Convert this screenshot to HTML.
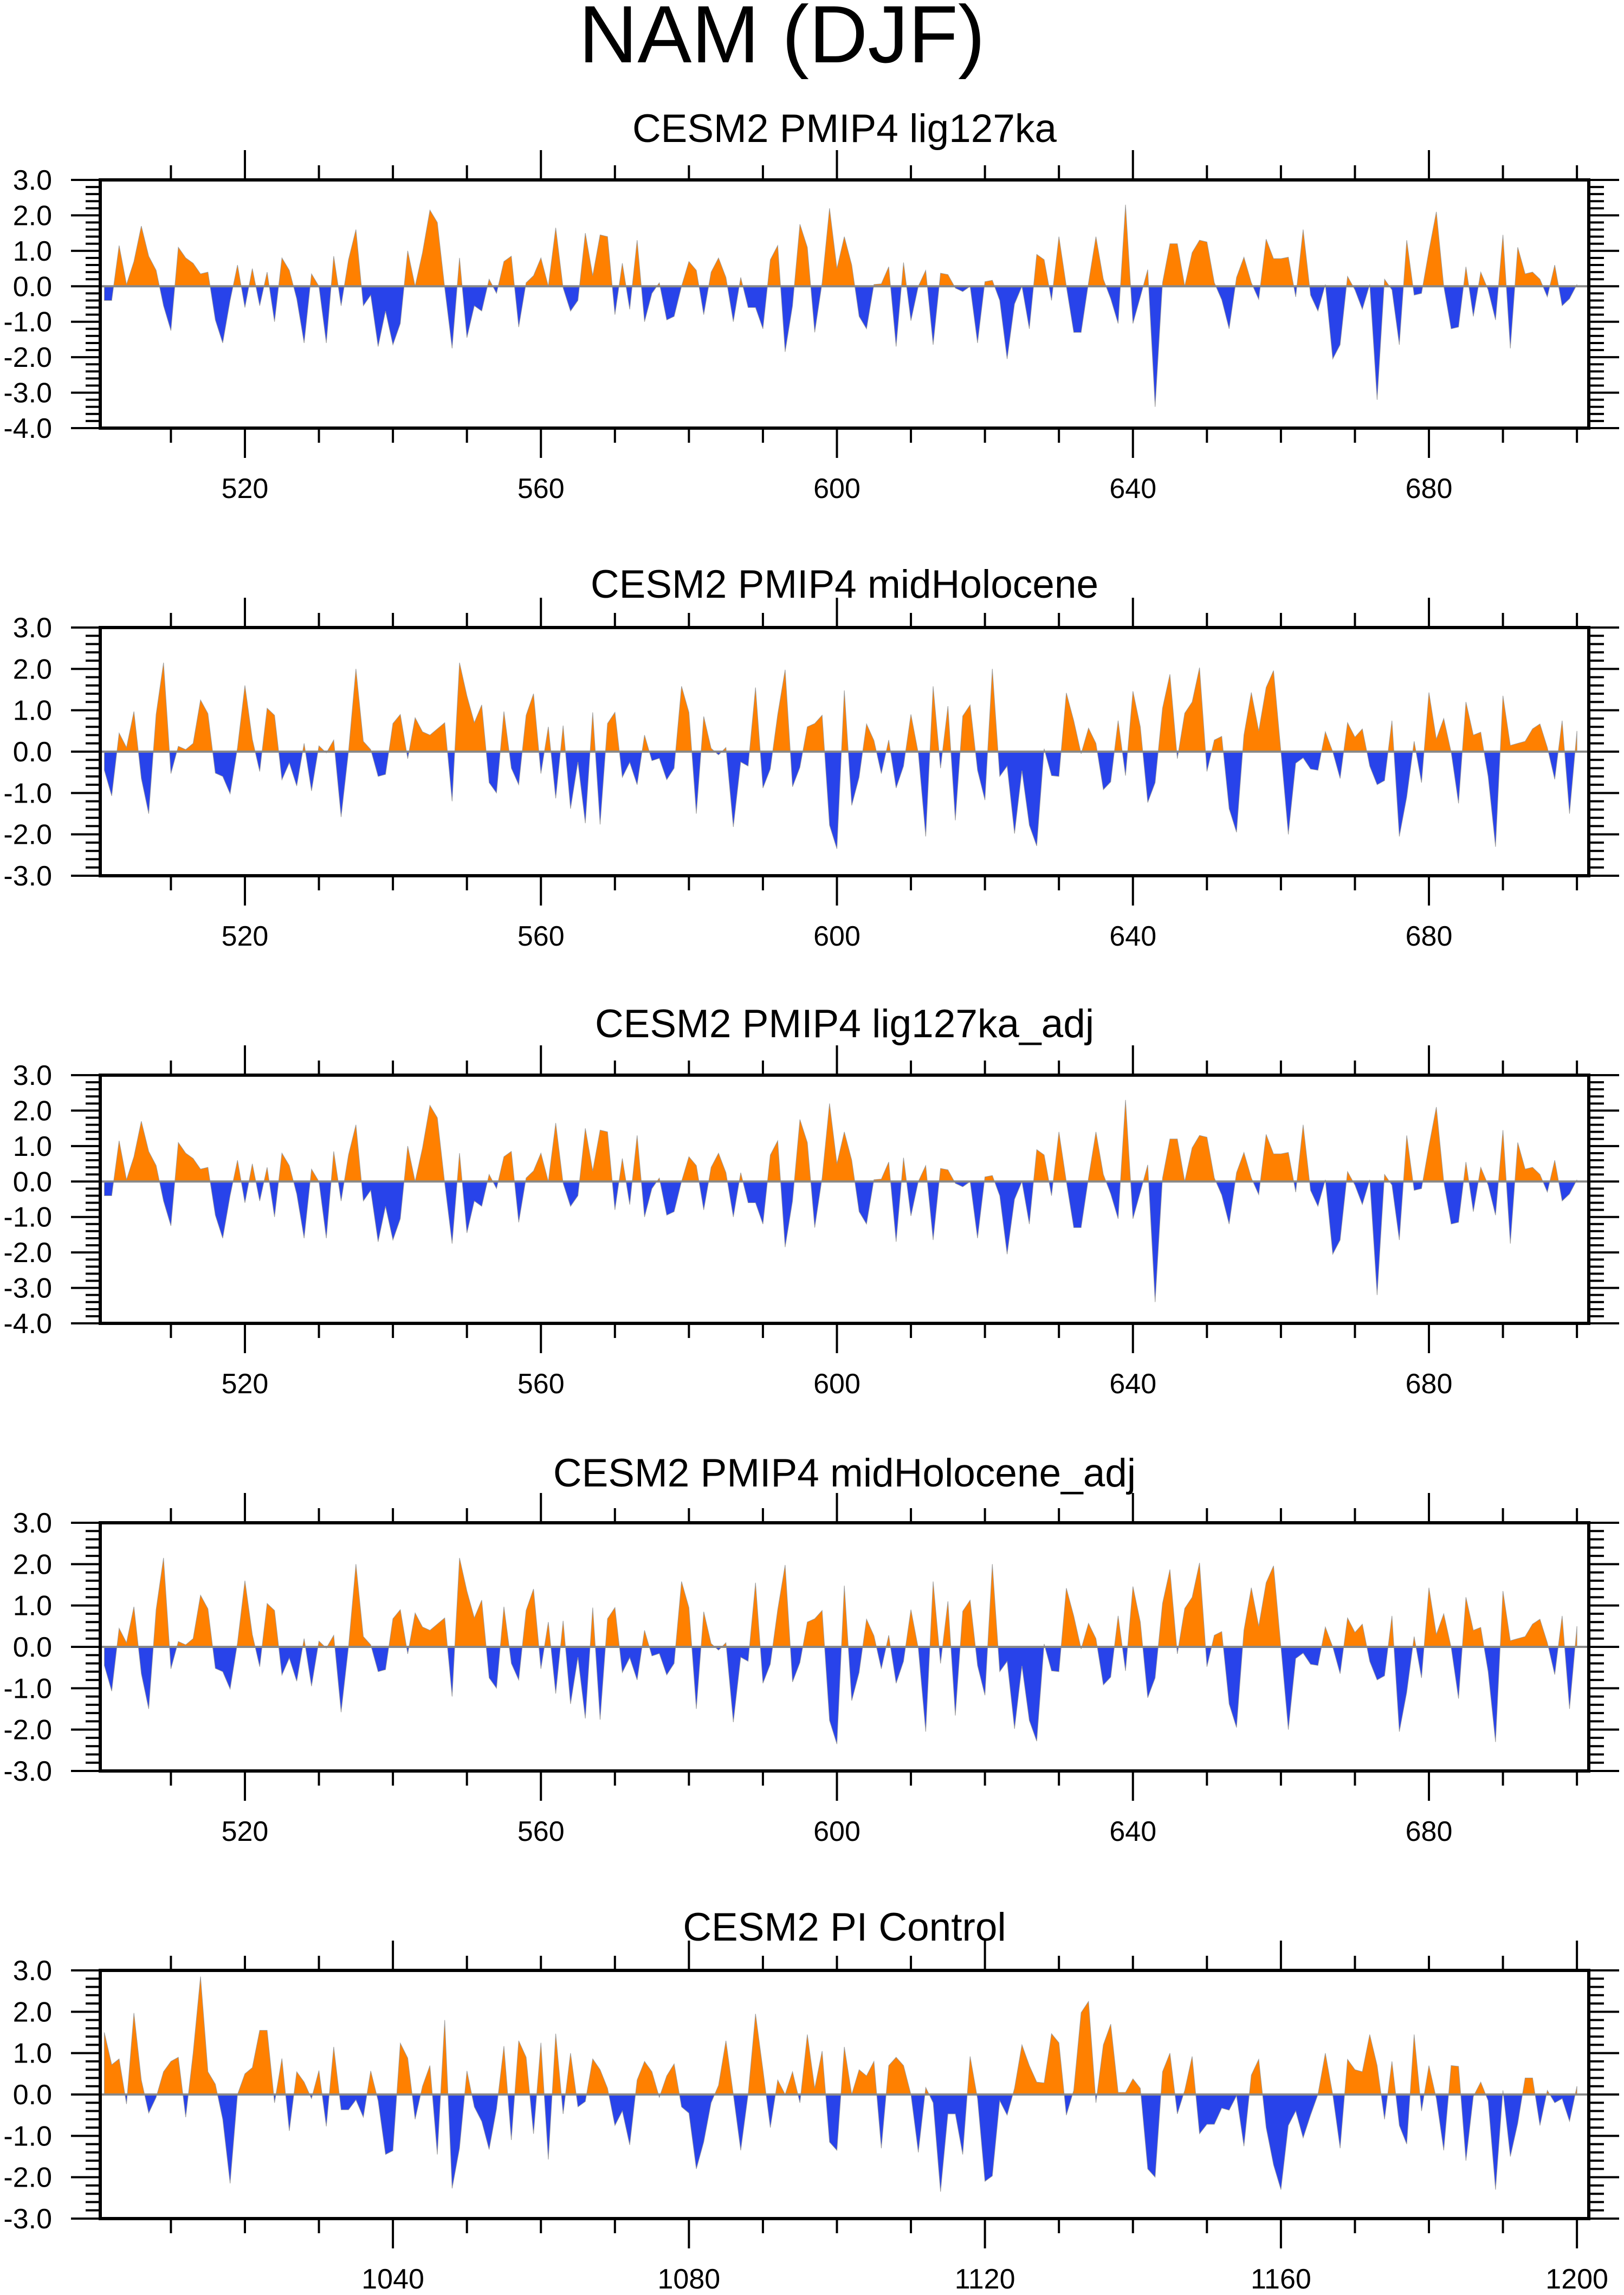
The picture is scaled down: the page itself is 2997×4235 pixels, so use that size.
<!DOCTYPE html>
<html>
<head>
<meta charset="utf-8">
<style>
html,body{margin:0;padding:0;background:#fff;}
svg{display:block;}
text{font-family:"Liberation Sans",Arial,sans-serif;fill:#000;}
</style>
</head>
<body>
<svg id="chart" width="2997" height="4235" viewBox="0 0 2997 4235" xmlns="http://www.w3.org/2000/svg">
<text x="1443" y="115" font-size="150" text-anchor="middle">NAM (DJF)</text>
</svg>
<script>
// ---------- data ----------
const lig127kaStart = 501;
const lig127kaValues = [-0.4,-0.4,1.15,0.05,0.7,1.7,0.85,0.45,-0.55,-1.25,1.1,0.8,0.65,0.35,0.4,-0.95,-1.6,-0.4,0.6,-0.6,0.5,-0.55,0.4,-1.0,0.8,0.45,-0.35,-1.6,0.35,0.0,-1.6,0.85,-0.55,0.75,1.6,-0.55,-0.25,-1.7,-0.7,-1.65,-1.05,1.0,0.0,0.95,2.15,1.8,-0.05,-1.75,0.8,-1.45,-0.55,-0.7,0.2,-0.2,0.7,0.85,-1.15,0.1,0.3,0.8,0.0,1.65,-0.05,-0.7,-0.4,1.5,0.3,1.45,1.4,-0.8,0.65,-0.65,1.3,-1.0,-0.2,0.1,-0.95,-0.85,0.0,0.7,0.45,-0.8,0.4,0.8,0.25,-1.0,0.25,-0.6,-0.6,-1.2,0.75,1.15,-1.85,-0.55,1.75,1.1,-1.3,0.1,2.2,0.5,1.4,0.6,-0.85,-1.2,0.05,0.07,0.55,-1.7,0.67,-0.97,0.0,0.45,-1.65,0.37,0.33,-0.05,-0.15,0.0,-1.6,0.13,0.17,-0.4,-2.05,-0.5,0.0,-1.2,0.9,0.75,-0.4,1.4,0.0,-1.3,-1.3,0.1,1.4,0.2,-0.35,-1.05,2.3,-1.05,-0.3,0.47,-3.4,0.1,1.2,1.2,0.0,0.95,1.3,1.25,0.1,-0.38,-1.2,0.25,0.82,0.1,-0.37,1.33,0.78,0.78,0.82,-0.3,1.6,-0.25,-0.7,0.05,-2.05,-1.65,0.28,-0.1,-0.65,0.05,-3.2,0.2,-0.1,-1.65,1.3,-0.25,-0.2,1.0,2.1,0.0,-1.2,-1.15,0.55,-0.85,0.4,-0.1,-0.95,1.45,-1.75,1.1,0.35,0.4,0.2,-0.3,0.6,-0.55,-0.35,0.05];
const midHoloceneStart = 501;
const midHoloceneValues = [-0.45,-1.07,0.45,0.1,0.97,-0.65,-1.5,0.9,2.15,-0.53,0.13,0.05,0.2,1.25,0.92,-0.52,-0.6,-1.02,0.1,1.6,0.3,-0.48,1.05,0.88,-0.68,-0.27,-0.83,0.2,-0.95,0.14,-0.03,0.28,-1.58,0.0,2.0,0.25,0.05,-0.6,-0.55,0.68,0.9,-0.17,0.82,0.48,0.4,0.55,0.7,-1.2,2.15,1.35,0.7,1.13,-0.75,-1.0,0.97,-0.4,-0.8,0.88,1.4,-0.53,0.6,-1.13,0.63,-1.38,-0.25,-1.73,0.95,-1.76,0.68,0.95,-0.62,-0.26,-0.8,0.4,-0.22,-0.16,-0.68,-0.4,1.58,0.95,-1.5,0.85,0.08,-0.08,0.1,-1.82,-0.25,-0.35,1.55,-0.88,-0.42,0.9,1.98,-0.85,-0.38,0.6,0.68,0.88,-1.78,-2.35,1.48,-1.3,-0.62,0.67,0.27,-0.53,0.28,-0.88,-0.35,0.9,-0.04,-2.05,1.58,-0.4,1.1,-1.66,0.86,1.13,-0.45,-1.17,2.0,-0.6,-0.35,-1.98,-0.46,-1.78,-2.28,0.07,-0.58,-0.6,1.42,0.75,-0.05,0.57,0.2,-0.92,-0.73,0.75,-0.58,1.46,0.6,-1.23,-0.75,1.05,1.87,-0.17,0.93,1.2,2.03,-0.48,0.28,0.37,-1.38,-1.95,0.4,1.43,0.5,1.55,1.96,0.0,-2.0,-0.28,-0.15,-0.42,-0.45,0.48,0.0,-0.65,0.7,0.35,0.55,-0.35,-0.8,-0.7,0.75,-2.05,-1.1,0.25,-0.75,1.43,0.3,0.8,-0.01,-1.25,1.2,0.4,0.47,-0.6,-2.3,1.35,0.15,0.2,0.25,0.55,0.67,0.1,-0.67,0.75,-1.5,0.5];
const piControlStart = 1001;
const piControlValues = [1.5,0.72,0.86,-0.23,1.97,0.35,-0.45,-0.07,0.55,0.8,0.9,-0.55,1.0,2.85,0.55,0.25,-0.6,-2.15,0.0,0.5,0.65,1.55,1.55,-0.2,0.87,-0.88,0.55,0.3,-0.1,0.58,-0.77,1.15,-0.37,-0.37,-0.13,-0.55,0.57,-0.15,-1.45,-1.36,1.24,0.88,-0.6,0.2,0.7,-1.45,1.8,-2.27,-1.3,0.57,-0.3,-0.65,-1.33,-0.35,1.17,-1.1,1.3,0.9,-0.95,1.25,-1.57,1.47,-0.47,1.0,-0.3,-0.17,0.86,0.6,0.15,-0.75,-0.4,-1.22,0.35,0.8,0.55,-0.07,0.45,0.74,-0.3,-0.45,-1.8,-1.15,-0.2,0.22,1.3,0.0,-1.35,0.0,1.95,0.6,-0.8,0.35,0.0,0.55,-0.2,1.45,0.15,1.05,-1.15,-1.35,1.15,0.0,0.6,0.45,0.8,-1.3,0.7,0.9,0.7,0.0,-1.4,0.17,-0.2,-2.35,-0.47,-0.47,-1.45,0.92,-0.1,-2.1,-1.97,-0.15,-0.5,0.15,1.2,0.7,0.3,0.28,1.47,1.25,-0.5,0.1,1.98,2.25,-0.2,1.2,1.7,0.05,0.05,0.38,0.15,-1.8,-2.0,0.55,1.0,-0.47,0.1,0.92,-0.95,-0.72,-0.72,-0.33,-0.38,-0.03,-1.25,0.47,0.85,-0.8,-1.7,-2.3,-0.75,-0.4,-1.05,-0.5,0.0,1.0,0.0,-1.3,0.85,0.6,0.55,1.45,0.7,-0.6,0.8,-0.75,-1.2,1.45,-0.4,0.7,-0.1,-1.35,0.7,0.68,-1.6,-0.05,0.3,-0.15,-2.3,0.1,-1.5,-0.7,0.4,0.4,-0.75,0.1,-0.2,-0.1,-0.65,0.2];
const panelTitles = ["CESM2 PMIP4 lig127ka","CESM2 PMIP4 midHolocene","CESM2 PMIP4 lig127ka_adj","CESM2 PMIP4 midHolocene_adj","CESM2 PI Control"];
const panelYMin = [-4,-3,-4,-3,-3];
const panelYMax = [3,3,3,3,3];
const yTickLabelsA = ["3.0","2.0","1.0","0.0","-1.0","-2.0","-3.0","-4.0"];
const yTickLabelsB = ["3.0","2.0","1.0","0.0","-1.0","-2.0","-3.0"];
const xMajorTicksA = [520,560,600,640,680];
const xMajorTicksB = [1040,1080,1120,1160,1200];

// ---------- drawing ----------
const NS = "http://www.w3.org/2000/svg";
const svg = document.getElementById("chart");
const L = 185, R = 2932, H = 458, TOP0 = 332, STEP = 826;
const titleShift = [0, 15, 0, 3, 15];
function mk(tag, attrs, parent){
  const e = document.createElementNS(NS, tag);
  for (const k in attrs) e.setAttribute(k, attrs[k]);
  (parent||svg).appendChild(e);
  return e;
}
const series = [
  {start: lig127kaStart, vals: lig127kaValues, ticks: xMajorTicksA, ylab: yTickLabelsA},
  {start: midHoloceneStart, vals: midHoloceneValues, ticks: xMajorTicksA, ylab: yTickLabelsB},
  {start: lig127kaStart, vals: lig127kaValues.slice(), ticks: xMajorTicksA, ylab: yTickLabelsA},
  {start: midHoloceneStart, vals: midHoloceneValues.slice(), ticks: xMajorTicksA, ylab: yTickLabelsB},
  {start: piControlStart, vals: piControlValues, ticks: xMajorTicksB, ylab: yTickLabelsB}
];
const panelNames = ["lig127ka","midholocene","lig127ka-adj","midholocene-adj","pi-control"];

series.forEach((s, i) => {
  const top = TOP0 + i*STEP, bot = top + H;
  const ymin = panelYMin[i], ymax = panelYMax[i];
  const n = s.vals.length;
  const xmin = s.start - 0.55, xmax = s.start + n - 1 + 1.6;
  const xs = v => L + (v - xmin)/(xmax - xmin)*(R - L);
  const ys = v => top + (ymax - v)/(ymax - ymin)*H;
  const g = mk("g", {});
  
  

  const t = mk("text", {x:(L+R)/2, y:top-70+titleShift[i], "font-size":73, "text-anchor":"middle"}, g);
  t.textContent = panelTitles[i];
  
  

  const y0 = ys(0);
  let d = "M" + xs(s.start) + "," + y0;
  s.vals.forEach((v, k) => { d += " L" + xs(s.start + k).toFixed(2) + "," + ys(v).toFixed(2); });
  d += " L" + xs(s.start + n - 1) + "," + y0 + " Z";
  const cid = "clip" + i;
  const defs = mk("defs", {}, g);
  const cpU = mk("clipPath", {id: cid + "u"}, defs);
  mk("rect", {x:L, y:top, width:R-L, height:y0-top}, cpU);
  const cpD = mk("clipPath", {id: cid + "d"}, defs);
  mk("rect", {x:L, y:y0, width:R-L, height:bot-y0}, cpD);
  const pos = mk("path", {d:d, fill:"#ff8000", stroke:"#999", "stroke-width":1, "clip-path":"url(#"+cid+"u)"}, g);
  
  
  const neg = mk("path", {d:d, fill:"#2843ea", stroke:"#999", "stroke-width":1, "clip-path":"url(#"+cid+"d)"}, g);
  
  
  const zl = mk("line", {x1:L, x2:R, y1:y0, y2:y0, stroke:"#888", "stroke-width":4}, g);
  
  

  const fr = mk("rect", {x:L, y:top, width:R-L, height:H, fill:"none", stroke:"#000", "stroke-width":6}, g);
  
  

  const yt = mk("g", {stroke:"#000", "stroke-width":4}, g);
  
  
  for (let k = 0; k <= (ymax - ymin)*5; k++) {
    const v = ymax - k*0.2, y = ys(v), major = (k % 5 === 0);
    mk("line", {x1:L - (major?54:27), x2:L, y1:y, y2:y}, yt);
    mk("line", {x1:R, x2:R + (major?56:28), y1:y, y2:y}, yt);
  }
  s.ylab.forEach((lab, k) => {
    const tl = mk("text", {x:96, y:ys(ymax - k) + 18, "font-size":52, "text-anchor":"end"}, g);
    tl.textContent = lab;
    
    
  });

  const xt = mk("g", {stroke:"#000", "stroke-width":4}, g);
  
  
  const first = Math.ceil(xmin/10)*10;
  for (let yr = first; yr <= xmax; yr += 10) {
    const x = xs(yr), major = s.ticks.indexOf(yr) >= 0;
    mk("line", {x1:x, x2:x, y1:top, y2:top - (major?55:27)}, xt);
    mk("line", {x1:x, x2:x, y1:bot, y2:bot + (major?55:27)}, xt);
  }
  s.ticks.forEach(yr => {
    const tl = mk("text", {x:xs(yr), y:bot + 129, "font-size":52, "text-anchor":"middle"}, g);
    tl.textContent = String(yr);
    
    
  });
});
</script>
</body>
</html>
